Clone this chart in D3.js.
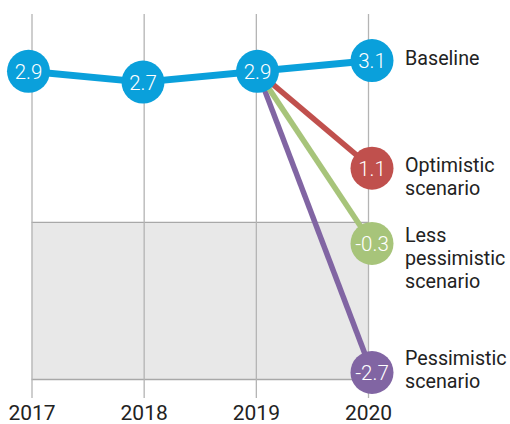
<!DOCTYPE html>
<html>
<head>
<meta charset="utf-8">
<script src="https://cdn.jsdelivr.net/npm/d3@7"></script>
<style>
  html, body { margin: 0; padding: 0; background: #fff; }
  svg { display: block; font-family: Roboto, "Noto Sans", Arial, sans-serif; }
</style>
</head>
<body>
<svg id="chart" width="510" height="424"></svg>
<script>
// ---- data ----
const years = [2017, 2018, 2019, 2020];
const baselineValues = [2.9, 2.7, 2.9, 3.1];
const scenarioNames = ["Optimistic scenario", "Less pessimistic scenario", "Pessimistic scenario"];
const scenarioStart = 2.9;          // 2019 value where scenarios branch
const scenarioValues = [1.1, -0.3, -2.7]; // 2020 values
const shadeBand = [0.09, -2.83];    // shaded (negative growth) zone
const seriesLabels = [["Baseline"], ["Optimistic", "scenario"], ["Less", "pessimistic", "scenario"], ["Pessimistic", "scenario"]];

// ---- styles / layout ----
const colBlue = "#0aa0db", colRed = "#c0504d", colGreen = "#a7c47a", colPurple = "#8165a3";
const scenarioColors = [colRed, colGreen, colPurple];
const labelDy = [4.7, 3.6, -1.7, -7.5];
const lineH = 23.3;

const svg = d3.select("#chart");
const xGrid = d3.scaleLinear().domain([2017, 2020]).range([31.5, 368]);
const xPt = d3.scaleLinear().domain([2017, 2020]).range([28.5, 372]);
const y = d3.scaleLinear().domain([3.1, -2.7]).range([60.6, 372.5]);

// shaded band
svg.append("rect")
  .attr("x", xGrid(2017)).attr("width", xGrid(2020) - xGrid(2017))
  .attr("y", y(shadeBand[0])).attr("height", y(shadeBand[1]) - y(shadeBand[0]))
  .attr("fill", "#e8e8e8");
[shadeBand[0], shadeBand[1]].forEach(v => {
  svg.append("line")
    .attr("x1", xGrid(2017)).attr("x2", xGrid(2020))
    .attr("y1", y(v)).attr("y2", y(v))
    .attr("stroke", "#a8a8a8").attr("stroke-width", 1.3);
});

// grid + axis
const gridTop = 14, gridBottom = 398;
const axis = d3.axisBottom(xGrid).tickValues(years).tickFormat(d3.format("d"))
  .tickSizeInner(-(gridBottom - gridTop)).tickSizeOuter(0).tickPadding(7);
const ax = svg.append("g").attr("transform", `translate(0,${gridBottom})`).call(axis);
ax.select(".domain").remove();
ax.selectAll(".tick line").attr("stroke", "#b4b4b4").attr("stroke-width", 1.3);
ax.selectAll(".tick text").attr("font-size", 21).attr("fill", "#222")
  .attr("font-family", "Roboto, sans-serif");

// scenario lines (draw purple first)
const order = [2, 1, 0];
order.forEach(i => {
  svg.append("line")
    .attr("x1", xPt(2019)).attr("y1", y(scenarioStart))
    .attr("x2", xPt(2020)).attr("y2", y(scenarioValues[i]))
    .attr("stroke", scenarioColors[i]).attr("stroke-width", 5.5);
});

// baseline line
const line = d3.line().x((d, i) => xPt(years[i])).y(d => y(d));
svg.append("path").datum(baselineValues)
  .attr("d", line).attr("fill", "none")
  .attr("stroke", colBlue).attr("stroke-width", 7).attr("stroke-linejoin", "round");

// points
const pts = baselineValues.map((v, i) => ({ x: years[i], v, c: colBlue }))
  .concat(scenarioValues.map((v, i) => ({ x: 2020, v, c: scenarioColors[i] })));
const fmt = v => v.toFixed(1);
const g = svg.append("g").selectAll("g").data(pts).join("g")
  .attr("transform", d => `translate(${xPt(d.x)},${y(d.v)})`);
g.append("circle").attr("r", 21.5).attr("fill", d => d.c);
g.append("text").attr("text-anchor", "middle").attr("dy", "0.36em")
  .attr("fill", "#fff").attr("font-size", 20.5).attr("font-weight", 300)
  .text(d => fmt(d.v));

// series labels
const labelVals = [baselineValues[3]].concat(scenarioValues);
seriesLabels.forEach((lines, i) => {
  const t = svg.append("text")
    .attr("x", 405).attr("y", y(labelVals[i]) + labelDy[i])
    .attr("font-size", 19.7).attr("fill", "#222");
  lines.forEach((s, j) => {
    t.append("tspan").attr("x", 405).attr("dy", j === 0 ? 0 : lineH).text(s);
  });
});
</script>
</body>
</html>
